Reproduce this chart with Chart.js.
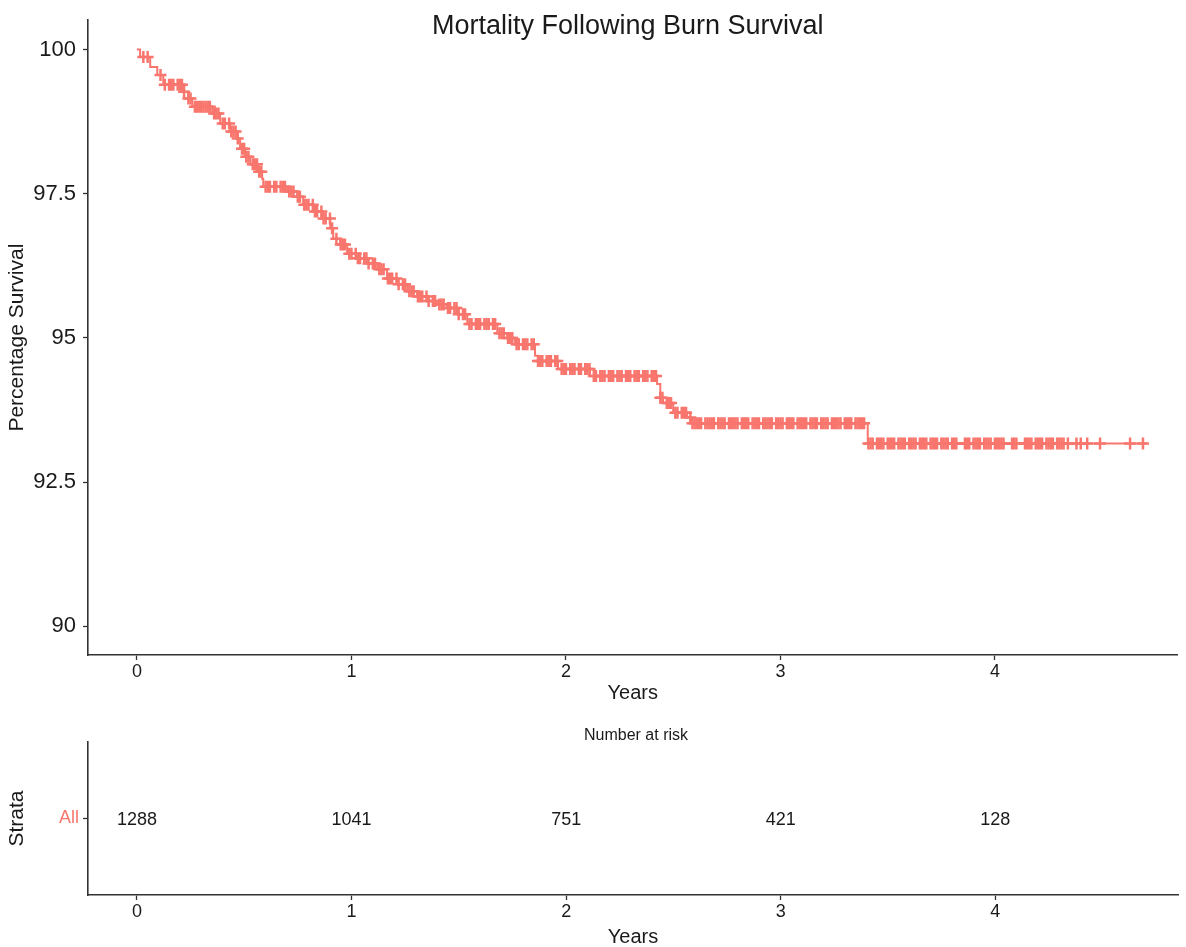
<!DOCTYPE html>
<html>
<head>
<meta charset="utf-8">
<title>Mortality Following Burn Survival</title>
<script src="https://cdn.jsdelivr.net/npm/chart.js@4.4.0/dist/chart.umd.min.js"></script>
<style>
    html, body { margin: 0; padding: 0; background: #fff; overflow: hidden; }
    #wrap { position: relative; width: 1186px; height: 947px; }
    canvas { position: absolute; left: 0; }
    #survival-chart { top: 0; }
    #risk-chart { top: 705px; }
</style>
</head>
<body>
<div id="wrap">
    <canvas id="survival-chart" width="1186" height="703"></canvas>
    <canvas id="risk-chart" width="1186" height="242"></canvas>
</div>
<script>
// Kaplan-Meier steps (years, % survival after the drop)
const eventTimes = [0, 0.015, 0.062, 0.095, 0.123, 0.216, 0.239, 0.258, 0.351, 0.388,
    0.435, 0.467, 0.481, 0.505, 0.528, 0.561, 0.584, 0.589, 0.70, 0.747,
    0.775, 0.822, 0.868, 0.901, 0.915, 0.947, 0.98, 1.027, 1.073, 1.12,
    1.166, 1.213, 1.26, 1.306, 1.353, 1.40, 1.446, 1.493, 1.54, 1.68,
    1.726, 1.763, 1.856, 1.87, 1.963, 2.112, 2.425, 2.44, 2.453, 2.50,
    2.565, 2.585, 3.407, 4.708];
const survivalValues = [100, 99.87, 99.70, 99.56, 99.39, 99.27, 99.15, 99.01, 98.89, 98.72,
    98.58, 98.46, 98.28, 98.14, 98.01, 97.88, 97.76, 97.62, 97.54, 97.45,
    97.31, 97.19, 97.07, 96.90, 96.72, 96.62, 96.46, 96.38, 96.29, 96.19,
    96.03, 95.93, 95.81, 95.72, 95.64, 95.58, 95.52, 95.41, 95.24, 95.08,
    95.00, 94.89, 94.69, 94.60, 94.46, 94.34, 94.20, 93.96, 93.87, 93.70,
    93.62, 93.52, 93.17, 93.17];

// Censored observations (years)
const censorTimes = [0.03, 0.05, 0.11, 0.13, 0.15, 0.16, 0.17, 0.19, 0.20, 0.21, 0.22, 0.24, 0.25,
    0.27, 0.28, 0.29, 0.30, 0.31, 0.32, 0.33, 0.34, 0.36, 0.37, 0.38, 0.40, 0.41, 0.43, 0.44,
    0.45, 0.46, 0.47, 0.49, 0.50, 0.51, 0.52, 0.54, 0.55, 0.56, 0.57, 0.58, 0.60, 0.61, 0.62,
    0.64, 0.65, 0.67, 0.68, 0.69, 0.71, 0.72, 0.73, 0.75, 0.76, 0.78, 0.79, 0.80, 0.82, 0.83,
    0.84, 0.86, 0.87, 0.88, 0.90, 0.91, 0.93, 0.95, 0.96, 0.97, 0.99, 1.00, 1.02, 1.03, 1.04,
    1.06, 1.07, 1.08, 1.10, 1.11, 1.13, 1.14, 1.15, 1.17, 1.18, 1.19, 1.21, 1.22, 1.24, 1.25,
    1.27, 1.28, 1.29, 1.31, 1.32, 1.33, 1.35, 1.36, 1.38, 1.39, 1.41, 1.42, 1.43, 1.45, 1.46,
    1.48, 1.49, 1.50, 1.52, 1.53, 1.55, 1.56, 1.58, 1.59, 1.60, 1.62, 1.63, 1.64, 1.66, 1.67,
    1.69, 1.70, 1.71, 1.73, 1.74, 1.75, 1.77, 1.78, 1.80, 1.81, 1.82, 1.84, 1.85, 1.87, 1.88,
    1.89, 1.91, 1.92, 1.93, 1.95, 1.96, 1.98, 1.99, 2.00, 2.02, 2.03, 2.04, 2.06, 2.07, 2.09,
    2.10, 2.11, 2.13, 2.14, 2.16, 2.17, 2.18, 2.20, 2.21, 2.22, 2.24, 2.25, 2.26, 2.28, 2.29,
    2.30, 2.32, 2.33, 2.34, 2.36, 2.37, 2.38, 2.40, 2.41, 2.42, 2.44, 2.45, 2.47, 2.48, 2.49,
    2.51, 2.52, 2.54, 2.55, 2.56, 2.58, 2.59,
    2.60, 2.61, 2.62, 2.63, 2.65, 2.66, 2.67, 2.68, 2.69, 2.71, 2.72, 2.73, 2.74, 2.76, 2.77,
    2.78, 2.79, 2.80, 2.82, 2.83, 2.84, 2.85, 2.87, 2.88, 2.89, 2.90, 2.92, 2.93, 2.94, 2.95,
    2.96, 2.98, 2.99, 3.00, 3.01, 3.03, 3.04, 3.05, 3.06, 3.08, 3.09, 3.10, 3.11, 3.12, 3.14,
    3.15, 3.16, 3.17, 3.19, 3.20, 3.21, 3.22, 3.24, 3.25, 3.26, 3.27, 3.28, 3.30, 3.31, 3.32,
    3.33, 3.35, 3.36, 3.37, 3.38, 3.39,
    3.41, 3.42, 3.43, 3.45, 3.46, 3.47, 3.48, 3.50, 3.51, 3.52, 3.53, 3.55, 3.56, 3.57, 3.58,
    3.60, 3.61, 3.62, 3.63, 3.65, 3.66, 3.67, 3.68, 3.70, 3.71, 3.72, 3.73, 3.75, 3.76, 3.77,
    3.78, 3.80, 3.81, 3.82, 3.86, 3.87, 3.88, 3.90, 3.91, 3.92, 3.93, 3.95, 3.96, 3.97, 3.98,
    4.00, 4.01, 4.02, 4.03, 4.04, 4.08, 4.09, 4.10, 4.14, 4.15, 4.16, 4.17, 4.19, 4.20, 4.21,
    4.22, 4.24, 4.25, 4.26, 4.27, 4.29, 4.30, 4.31, 4.32, 4.34,
    4.38, 4.40, 4.43, 4.49, 4.63, 4.69];

// Number at risk table
const riskTimes = [0, 1, 2, 3, 4];
const riskCounts = [1288, 1041, 751, 421, 128];
const strataLabels = ['All'];

// Axis ticks
const xTicks = [0, 1, 2, 3, 4];
const yTicks = [90, 92.5, 95, 97.5, 100];
const yTickLabels = ['90', '92.5', '95', '97.5', '100'];

const curveColor = '#F8766D';
const textColor = '#1a1a1a';
const axisColor = '#333333';
const fontFamily = "'Liberation Sans', Arial, sans-serif";

function survivalAt(t) {
    let s = survivalValues[0];
    for (let i = 0; i < eventTimes.length; i++) {
        if (eventTimes[i] <= t) s = survivalValues[i];
    }
    return s;
}

const curvePoints = eventTimes.map((t, i) => ({ x: t, y: survivalValues[i] }));
const censorPoints = censorTimes.map(t => ({ x: t, y: survivalAt(t) }));

// Title drawn over the top of the plot panel, like ggplot does here
const plotTitle = {
    id: 'plotTitle',
    afterDraw(chart) {
        const { ctx, chartArea } = chart;
        ctx.save();
        ctx.font = '27px ' + fontFamily;
        ctx.fillStyle = textColor;
        ctx.textAlign = 'center';
        ctx.textBaseline = 'middle';
        ctx.fillText('Mortality Following Burn Survival', (chartArea.left + chartArea.right) / 2 - 5, chartArea.top + 6);
        ctx.restore();
    }
};

// Risk numbers and the small "Number at risk" heading
const riskText = {
    id: 'riskText',
    afterDraw(chart) {
        const { ctx, chartArea } = chart;
        const meta = chart.getDatasetMeta(0);
        ctx.save();
        ctx.font = '18px ' + fontFamily;
        ctx.fillStyle = textColor;
        ctx.textAlign = 'center';
        ctx.textBaseline = 'middle';
        meta.data.forEach((pt, i) => {
            ctx.fillText(String(riskCounts[i]), pt.x, pt.y + 2);
        });
        ctx.font = '16px ' + fontFamily;
        ctx.fillText('Number at risk', (chartArea.left + chartArea.right) / 2 + 3, chartArea.top - 6);
        ctx.restore();
    }
};

function xAxis(height) {
    return {
        type: 'linear',
        min: -0.228,
        max: 4.851,
        afterBuildTicks: scale => { scale.ticks = xTicks.map(v => ({ value: v })); },
        afterFit: scale => { scale.height = height; },
        grid: { display: true, drawOnChartArea: false, drawTicks: true, tickLength: 5, tickColor: axisColor, tickWidth: 1.3 },
        border: { display: true, color: axisColor, width: 1.6 },
        ticks: { color: textColor, padding: 1, font: { family: fontFamily, size: 18 }, maxRotation: 0, callback: v => String(v) },
        title: { display: true, text: 'Years', color: textColor, padding: 0, font: { family: fontFamily, size: 20, lineHeight: 1 } }
    };
}

function setupSurvivalChart() {
    const ctx = document.getElementById('survival-chart').getContext('2d');
    new Chart(ctx, {
        type: 'line',
        data: {
            datasets: [
                {
                    label: 'All',
                    data: curvePoints,
                    borderColor: curveColor,
                    borderWidth: 2,
                    stepped: true,
                    pointRadius: 0,
                    fill: false
                },
                {
                    type: 'scatter',
                    label: 'Censored',
                    data: censorPoints,
                    pointStyle: 'cross',
                    pointRadius: 6,
                    pointBorderWidth: 2.5,
                    borderColor: curveColor,
                    backgroundColor: curveColor,
                    showLine: false
                }
            ]
        },
        options: {
            responsive: false,
            animation: false,
            events: [],
            layout: { padding: { top: 18, right: 8, left: 0, bottom: 0 } },
            plugins: { legend: { display: false }, tooltip: { enabled: false } },
            scales: {
                x: xAxis(48),
                y: {
                    type: 'linear',
                    min: 89.5,
                    max: 100.51,
                    afterBuildTicks: scale => { scale.ticks = yTicks.map(v => ({ value: v })); },
                    afterFit: scale => { scale.width = 88; },
                    grid: { display: true, drawOnChartArea: false, drawTicks: true, tickLength: 5, tickColor: axisColor, tickWidth: 1.3 },
                    border: { display: true, color: axisColor, width: 1.6 },
                    ticks: {
                        color: textColor,
                        padding: 7,
                        font: { family: fontFamily, size: 22 },
                        callback: (v, i) => yTickLabels[i]
                    },
                    title: { display: true, text: 'Percentage Survival', color: textColor, padding: { top: 7, bottom: 0 }, font: { family: fontFamily, size: 21, lineHeight: 1 } }
                }
            }
        },
        plugins: [plotTitle]
    });
}

function setupRiskChart() {
    const ctx = document.getElementById('risk-chart').getContext('2d');
    new Chart(ctx, {
        type: 'scatter',
        data: {
            datasets: [{
                label: 'Number at risk',
                data: riskTimes.map(t => ({ x: t, y: 1 })),
                pointRadius: 0
            }]
        },
        options: {
            responsive: false,
            animation: false,
            events: [],
            layout: { padding: { top: 37, right: 8, left: 0, bottom: 0 } },
            plugins: { legend: { display: false }, tooltip: { enabled: false } },
            scales: {
                x: xAxis(52),
                y: {
                    type: 'linear',
                    min: 0,
                    max: 2,
                    afterBuildTicks: scale => { scale.ticks = [{ value: 1 }]; },
                    afterFit: scale => { scale.width = 88; },
                    grid: { display: true, drawOnChartArea: false, drawTicks: true, tickLength: 5, tickColor: axisColor, tickWidth: 1.3 },
                    border: { display: true, color: axisColor, width: 1.6 },
                    ticks: {
                        color: curveColor,
                        padding: 4,
                        font: { family: fontFamily, size: 18 },
                        callback: () => strataLabels[0]
                    },
                    title: { display: true, text: 'Strata', color: textColor, padding: { top: 7, bottom: 0 }, font: { family: fontFamily, size: 21, lineHeight: 1 } }
                }
            }
        },
        plugins: [riskText]
    });
}

document.addEventListener('DOMContentLoaded', function() {
    setupSurvivalChart();
    setupRiskChart();
});
</script>
</body>
</html>
